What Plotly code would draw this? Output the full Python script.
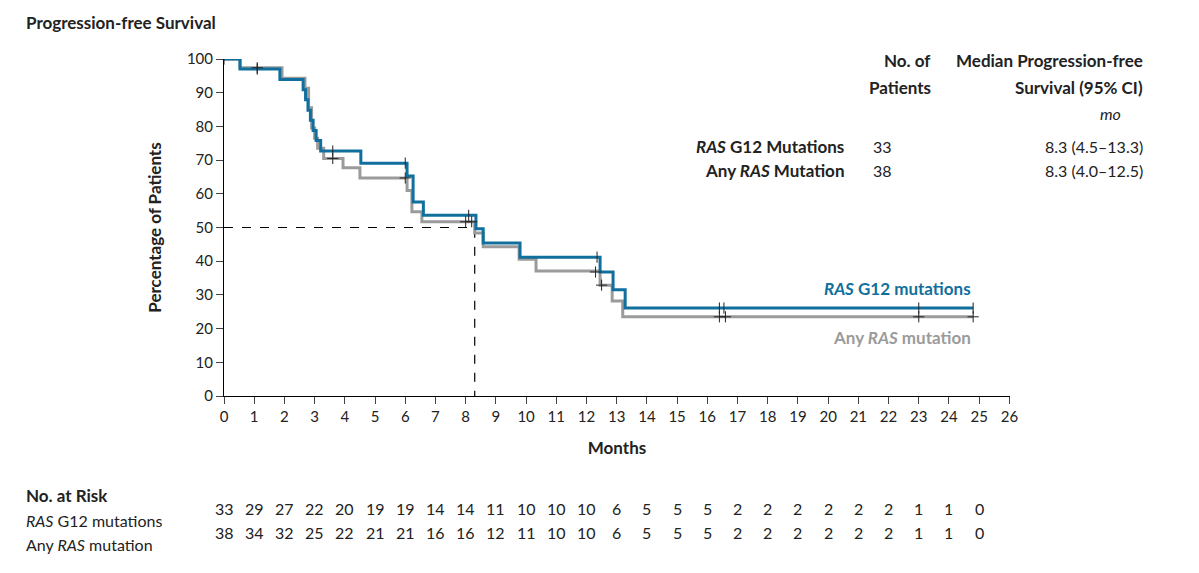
import plotly.graph_objects as go

# step curves (months, percent)
g12_t = [0, 0.53, 1.85, 2.62, 2.7, 2.78, 2.86, 2.95, 3.05, 3.2, 4.53, 6.06, 6.26, 6.6, 8.34, 8.58, 9.8, 12.45, 12.88, 13.28, 24.8]
g12_s = [100, 97.0, 93.9, 90.9, 87.9, 84.8, 81.8, 78.8, 75.8, 72.7, 69.1, 65.3, 57.6, 53.6, 49.6, 45.4, 41.2, 36.8, 31.5, 26.1, 26.1]
g12_cens_t = [0, 1.1, 3.6, 6.0, 8.1, 12.35, 16.4, 16.55, 23.0, 24.8]
g12_cens_s = [100, 97.0, 72.7, 69.1, 53.6, 41.2, 26.1, 26.1, 26.1, 26.1]

any_t = [0, 0.53, 1.92, 2.68, 2.8, 2.9, 3.0, 3.1, 3.3, 3.94, 4.5, 6.06, 6.22, 6.55, 8.3, 8.58, 9.77, 10.33, 12.45, 12.85, 13.2, 24.8]
any_s = [100, 97.4, 94.3, 91.3, 85.5, 79.5, 76.5, 73.5, 70.5, 67.7, 64.7, 61.0, 54.7, 51.7, 48.4, 44.3, 40.6, 37.1, 32.9, 28.2, 23.5, 23.5]
any_cens_t = [1.1, 3.6, 6.0, 8.0, 8.2, 12.3, 12.5, 16.4, 16.6, 23.0, 24.8]
any_cens_s = [97.4, 70.5, 64.7, 51.7, 51.7, 36.8, 32.9, 23.5, 23.5, 23.5, 23.5]

axis_months = list(range(27))
risk_months = list(range(26))
risk_g12 = [33, 29, 27, 22, 20, 19, 19, 14, 14, 11, 10, 10, 10, 6, 5, 5, 5, 2, 2, 2, 2, 2, 2, 1, 1, 0]
risk_any = [38, 34, 32, 25, 22, 21, 21, 16, 16, 12, 11, 10, 10, 6, 5, 5, 5, 2, 2, 2, 2, 2, 2, 1, 1, 0]

median_pfs = 8.3

BLUE = "#106f9c"
GRAY = "#9b9b9b"
FONT = "Lato"

fig = go.Figure()
fig.add_trace(go.Scatter(x=[0, median_pfs, median_pfs], y=[50, 50, 0], mode="lines",
                         line=dict(color="black", width=1.2, dash="dash"), hoverinfo="skip"))
fig.add_trace(go.Scatter(x=any_t, y=any_s, mode="lines", line=dict(color=GRAY, width=3, shape="hv")))
fig.add_trace(go.Scatter(x=g12_t, y=g12_s, mode="lines", line=dict(color=BLUE, width=3, shape="hv")))
fig.add_trace(go.Scatter(x=any_cens_t, y=any_cens_s, mode="markers",
                         marker=dict(symbol="line-ns", size=8, line=dict(width=1, color="#222"))))
fig.add_trace(go.Scatter(x=any_cens_t, y=any_cens_s, mode="markers",
                         marker=dict(symbol="line-ew", size=8, line=dict(width=1, color="#222"))))
fig.add_trace(go.Scatter(x=g12_cens_t, y=g12_cens_s, mode="markers",
                         marker=dict(symbol="line-ns", size=8, line=dict(width=1, color="#222"))))

# page body adds an 8px margin, so the figure is 16px smaller than the window
fig.update_layout(
    width=1183, height=557, showlegend=False,
    plot_bgcolor="white", paper_bgcolor="white",
    margin=dict(l=216, r=181, t=51, b=169),
    font=dict(family=FONT, size=15, color="#222"),
    xaxis=dict(range=[0, 26.02], tickvals=axis_months, ticks="outside", ticklen=7,
               showline=True, linecolor="black", showgrid=False, zeroline=False,
               tickfont=dict(size=15),
               title=dict(text="<b>Months</b>", font=dict(size=17), standoff=18)),
    yaxis=dict(range=[0, 100], dtick=10, ticks="outside", ticklen=7,
               showline=True, linecolor="black", showgrid=False, zeroline=False,
               tickfont=dict(size=15),
               title=dict(text="<b>Percentage of Patients</b>", font=dict(size=17), standoff=20)),
)

def px(x):
    return (x - 224) / 786

def py(y):
    return (396 - y) / 337

ann = []
def note(text, x, y, xanchor="left", size=16, color="#222"):
    ann.append(dict(text=text, x=px(x), y=py(y), xref="paper", yref="paper", xanchor=xanchor,
                    yanchor="middle", showarrow=False, font=dict(size=size, color=color)))

note("<b>Progression-free Survival</b>", 24, 22, size=17)
note("<b>No. of</b>", 933, 61, "right", 17)
note("<b>Patients</b>", 933, 87, "right", 17)
note("<b>Median Progression-free</b>", 1145, 61, "right", 17)
note("<b>Survival (95% CI)</b>", 1145, 87, "right", 17)
note("<i>mo</i>", 1110, 113, "center")
note("<b><i>RAS</i> G12 Mutations</b>", 846, 146, "right", 17)
note("<b>Any <i>RAS</i> Mutation</b>", 846, 170, "right", 17)
note("33", 882, 146, "center")
note("38", 882, 170, "center")
note("8.3 (4.5–13.3)", 1145, 146, "right")
note("8.3 (4.0–12.5)", 1145, 170, "right")
note("<b><i>RAS</i> G12 mutations</b>", 973, 288, "right", 17, BLUE)
note("<b>Any <i>RAS</i> mutation</b>", 973, 337, "right", 17, GRAY)
note("<b>No. at Risk</b>", 24, 495, size=17)
note("<i>RAS</i> G12 mutations", 24, 520)
note("Any <i>RAS</i> mutation", 24, 544)
for m, a, b in zip(risk_months, risk_g12, risk_any):
    ann.append(dict(text=str(a), x=m, y=py(520), xref="x", yref="paper", showarrow=False,
                    font=dict(size=16)))
    ann.append(dict(text=str(b), x=m, y=py(544), xref="x", yref="paper", showarrow=False,
                    font=dict(size=16)))
fig.update_layout(annotations=ann)

fig.write_html("out.html")
